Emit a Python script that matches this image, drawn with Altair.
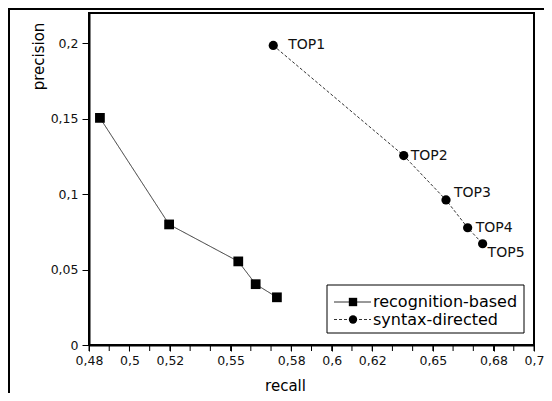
import altair as alt
import pandas as pd

# ---- data ----
series_names = ["recognition-based", "syntax-directed"]
rec_recall = [0.4854, 0.5196, 0.5538, 0.5624, 0.5729]
rec_precision = [0.1505, 0.0799, 0.0554, 0.0403, 0.0316]
syn_recall = [0.5711, 0.6356, 0.6565, 0.6672, 0.6746]
syn_precision = [0.1985, 0.1255, 0.0961, 0.0777, 0.0671]
syn_labels = ["TOP1", "TOP2", "TOP3", "TOP4", "TOP5"]

x_tick_values = [0.48, 0.49, 0.50, 0.51, 0.52, 0.53, 0.54, 0.55, 0.56, 0.57, 0.58,
                 0.59, 0.60, 0.61, 0.62, 0.63, 0.64, 0.65, 0.66, 0.67, 0.68, 0.69, 0.70]
x_tick_labels = [0.48, 0.5, 0.52, 0.55, 0.58, 0.6, 0.62, 0.65, 0.68, 0.7]
y_tick_values = [0, 0.05, 0.1, 0.15, 0.2]

df = pd.DataFrame({
    "recall": rec_recall + syn_recall,
    "precision": rec_precision + syn_precision,
    "series": [series_names[0]] * len(rec_recall) + [series_names[1]] * len(syn_recall),
    "label": [""] * len(rec_recall) + syn_labels,
    "order": list(range(len(rec_recall))) + list(range(len(syn_recall))),
})
ticks_df = pd.DataFrame({"recall": x_tick_values})
one_row = pd.DataFrame({"k": [0]})

FONT = "DejaVu Sans"
PLOT_W, PLOT_H = 445, 332

x_enc = alt.X(
    "recall:Q",
    scale=alt.Scale(domain=[0.48, 0.70], nice=False, zero=False),
    axis=alt.Axis(
        title="recall",
        values=x_tick_labels,
        labelExpr="replace(toString(datum.value), '.', ',')",
        grid=False, tickSize=6, labelPadding=3, labelOverlap=False, labelFlush=False,
        labelFontSize=12.5, titleFontSize=15,
        titleX=196, titleY=45, titleAlign="center", titleBaseline="alphabetic",
    ),
)
y_enc = alt.Y(
    "precision:Q",
    scale=alt.Scale(domain=[0, 0.22], nice=False),
    axis=alt.Axis(
        title="precision",
        values=y_tick_values,
        labelExpr="replace(toString(datum.value), '.', ',')",
        grid=False, tickSize=7, labelPadding=4, labelOverlap=False, labelFlush=False,
        labelFontSize=12.5, titleFontSize=15,
        titleX=-51, titleY=43, titleAlign="center", titleBaseline="middle", titleAngle=270,
    ),
)

dash_scale = alt.Scale(domain=series_names, range=[[1, 0], [3, 2]])

lines = alt.Chart(df).mark_line(color="#333333", strokeWidth=1).encode(
    x=x_enc,
    y=y_enc,
    order="order:Q",
    strokeDash=alt.StrokeDash("series:N", scale=dash_scale, legend=None),
)

squares = alt.Chart(df).transform_filter(alt.datum.series == series_names[0]).mark_point(
    filled=True, color="black", opacity=1, shape="square", size=95
).encode(x="recall:Q", y="precision:Q")

circles = alt.Chart(df).transform_filter(alt.datum.series == series_names[1]).mark_point(
    filled=True, color="black", opacity=1, shape="circle", size=85
).encode(x="recall:Q", y="precision:Q")

# minor ticks every 0.01 along the x axis
minor_ticks = alt.Chart(ticks_df).mark_rule(color="black", strokeWidth=1).encode(
    x="recall:Q",
    y=alt.value(PLOT_H),
    y2=alt.value(PLOT_H + 6),
)

label_offsets = {"TOP1": (15, 0), "TOP2": (7, 0), "TOP3": (8, -7), "TOP4": (8, 0), "TOP5": (5, 9)}
text_layers = []
for lab, (dx, dy) in label_offsets.items():
    text_layers.append(
        alt.Chart(df).transform_filter(alt.datum.label == lab).mark_text(
            align="left", baseline="middle", dx=dx, dy=dy, fontSize=14, font=FONT, color="#111111"
        ).encode(x="recall:Q", y="precision:Q", text="label:N")
    )

# legend box (drawn inside the plot, bottom right)
LG_X0, LG_X1, LG_Y0, LG_Y1 = 238, 435, 272, 320
row_y = [289, 306.5]
legend_layers = [
    alt.Chart(one_row).mark_rect(fill="white", stroke="black", strokeWidth=1).encode(
        x=alt.value(LG_X0), x2=alt.value(LG_X1), y=alt.value(LG_Y0), y2=alt.value(LG_Y1)
    )
]
legend_shapes = ["square", "circle"]
legend_sizes = [70, 70]
legend_dash = [[1, 0], [3, 2]]
for i, name in enumerate(series_names):
    legend_layers.append(
        alt.Chart(one_row).mark_rule(color="#333333", strokeWidth=1, strokeDash=legend_dash[i]).encode(
            x=alt.value(LG_X0 + 7), x2=alt.value(LG_X0 + 44), y=alt.value(row_y[i])
        )
    )
    legend_layers.append(
        alt.Chart(one_row).mark_point(filled=True, color="black", opacity=1,
                                      shape=legend_shapes[i], size=legend_sizes[i]).encode(
            x=alt.value(LG_X0 + 26), y=alt.value(row_y[i])
        )
    )
    legend_layers.append(
        alt.Chart(one_row).mark_text(align="left", baseline="middle", fontSize=16, font=FONT,
                                     color="black").encode(
            x=alt.value(LG_X0 + 46), y=alt.value(row_y[i]), text=alt.value(name)
        )
    )

frame = alt.Chart(one_row).mark_rect(
    filled=False, stroke="black", strokeWidth=2
).encode(x=alt.value(-80), x2=alt.value(700), y=alt.value(-4), y2=alt.value(700))

chart = alt.layer(lines, minor_ticks, squares, circles, *text_layers, *legend_layers, frame).properties(
    width=PLOT_W, height=PLOT_H,
    autosize=alt.AutoSizeParams(type="none"),
    padding={"left": 81, "top": 5, "right": 10, "bottom": 48},
).configure_view(
    stroke="black", strokeWidth=2
).configure_axis(
    domainColor="black", domainWidth=2, tickColor="black", tickWidth=1,
    labelFont=FONT, titleFont=FONT, labelColor="#111111", titleColor="black",
    titleFontWeight="normal",
)

chart.save("out.html", embed_options={"renderer": "svg", "actions": False})
